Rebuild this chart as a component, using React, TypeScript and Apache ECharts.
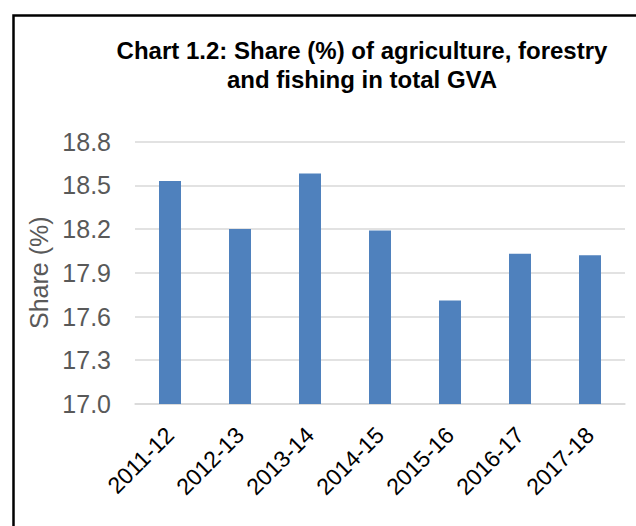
import React, { useEffect, useRef } from "react";
import * as echarts from "echarts";

const categories = ["2011-12", "2012-13", "2013-14", "2014-15", "2015-16", "2016-17", "2017-18"];
const shareValues = [18.53, 18.2, 18.58, 18.19, 17.71, 18.03, 18.02];
const titleText = "Chart 1.2: Share (%) of agriculture, forestry\nand fishing in total GVA";
const yAxisName = "Share (%)";

export default function App() {
  const ref = useRef<HTMLDivElement>(null);
  useEffect(() => {
    if (!ref.current) return;
    const chart = echarts.init(ref.current, null, { renderer: "svg" });
    chart.setOption({
      animation: false,
      backgroundColor: "#ffffff",
      title: {
        text: titleText,
        left: 357,
        top: 31,
        textAlign: "center",
        textStyle: {
          fontFamily: "Liberation Sans, Arial, sans-serif",
          fontSize: 24,
          fontWeight: "bold",
          color: "#000000",
          lineHeight: 29,
        },
      },
      graphic: [
        {
          type: "polyline",
          shape: { points: [[13.5, 526], [13.5, 15.5], [636, 15.5]] },
          style: { stroke: "#000000", lineWidth: 2.5, fill: "none" },
          silent: true,
        },
      ],
      grid: { left: 135, right: 11, top: 141.5, bottom: 122, containLabel: false },
      xAxis: {
        type: "category",
        data: categories,
        axisLine: { show: true, lineStyle: { color: "#D9D9D9", width: 1.5 } },
        axisTick: { show: false },
        axisLabel: {
          rotate: 45,
          margin: 27,
          fontFamily: "Liberation Sans, Arial, sans-serif",
          fontSize: 23,
          color: "#000000",
          interval: 0,
        },
      },
      yAxis: {
        type: "value",
        min: 17.0,
        max: 18.8,
        interval: 0.3,
        name: yAxisName,
        nameLocation: "middle",
        nameGap: 84,
        nameTextStyle: {
          fontFamily: "Liberation Sans, Arial, sans-serif",
          fontSize: 25,
          color: "#595959",
        },
        axisLine: { show: false },
        axisTick: { show: false },
        axisLabel: {
          margin: 24,
          fontFamily: "Liberation Sans, Arial, sans-serif",
          fontSize: 25,
          color: "#595959",
          formatter: (v: number) => v.toFixed(1),
        },
        splitLine: { show: true, lineStyle: { color: "#D9D9D9", width: 1.5 } },
      },
      series: [
        {
          type: "bar",
          data: shareValues,
          barWidth: 22,
          itemStyle: { color: "#4F81BD" },
        },
      ],
    });
    return () => chart.dispose();
  }, []);
  return (
    <div
      ref={ref}
      style={{ position: "fixed", left: 0, top: 0, width: 636, height: 526 }}
    />
  );
}
